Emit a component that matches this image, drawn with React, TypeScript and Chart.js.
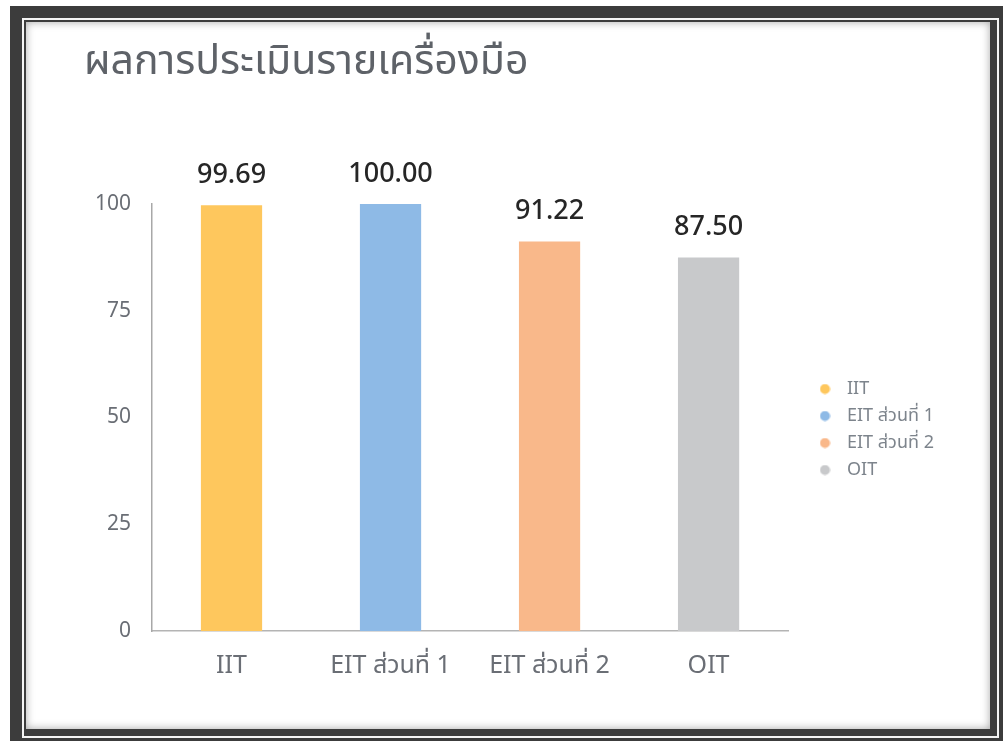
import React, { useEffect, useRef } from "react";
import { Chart, registerables } from "chart.js";

Chart.register(...registerables);

const categories = ["IIT", "EIT ส่วนที่ 1", "EIT ส่วนที่ 2", "OIT"];
const scores = [99.69, 100.0, 91.22, 87.5];
const barColors = ["#FEC75D", "#8EBAE6", "#F9B88A", "#C8C9CB"];
const yTicks = [0, 25, 50, 75, 100];
const titleText = "ผลการประเมินรายเครื่องมือ";

const FONT = "'Noto Sans', 'Noto Sans Thai', sans-serif";

function makeDot(color: string, size: number) {
  const c = document.createElement("canvas");
  c.width = size;
  c.height = size;
  const ctx = c.getContext("2d")!;
  ctx.fillStyle = color;
  ctx.beginPath();
  ctx.arc(size / 2, size / 2, size / 2 - 0.5, 0, Math.PI * 2);
  ctx.fill();
  return c;
}

const valueLabels = {
  id: "valueLabels",
  afterDatasetsDraw(chart: any) {
    const ctx = chart.ctx;
    const meta = chart.getDatasetMeta(0);
    const data = chart.data.datasets[0].data as number[];
    ctx.save();
    ctx.font = `500 27px ${FONT}`;
    ctx.fillStyle = "#262626";
    ctx.textAlign = "center";
    ctx.textBaseline = "middle";
    meta.data.forEach((bar: any, i: number) => {
      ctx.fillText(data[i].toFixed(2), bar.x, bar.y - 30);
    });
    ctx.restore();
  },
};

// place the legend block where it sits in the reference
const legendPlacer = {
  id: "legendPlacer",
  afterLayout(chart: any) {
    const lg = chart.legend;
    if (!lg) return;
    const dy = 407.5 - (lg.top + lg.bottom) / 2;
    const dx = 777 - lg.left;
    lg.top += dy;
    lg.bottom += dy;
    lg.left += dx;
    lg.right += dx;
  },
};

export default function App() {
  const ref = useRef<HTMLCanvasElement>(null);
  useEffect(() => {
    if (!ref.current) return;
    const dots = barColors.map((c) => makeDot(c, 11));
    const chart = new Chart(ref.current, {
      type: "bar",
      data: {
        labels: categories,
        datasets: [
          {
            data: scores,
            backgroundColor: barColors,
            borderWidth: 0,
            categoryPercentage: 1,
            barPercentage: 0.385,
          },
        ],
      },
      options: {
        animation: false,
        responsive: false,
        maintainAspectRatio: false,
        layout: { padding: { left: 59, top: 182, right: 61, bottom: 36 } },
        plugins: {
          title: { display: false },
          tooltip: { enabled: false },
          legend: {
            position: "right",
            align: "center",
            labels: {
              usePointStyle: true,
              pointStyleWidth: 26,
              boxHeight: 11,
              padding: 9,
              color: "#7d848c",
              font: { family: FONT, size: 18 },
              generateLabels: () =>
                categories.map((c, i) => ({
                  text: c,
                  fillStyle: barColors[i],
                  strokeStyle: barColors[i],
                  lineWidth: 0,
                  pointStyle: dots[i],
                  hidden: false,
                  index: i,
                  datasetIndex: 0,
                  fontColor: "#7d848c",
                })),
            },
          },
        },
        scales: {
          x: {
            grid: { display: false },
            border: { display: true, color: "#b4b4b4", width: 1.5 },
            ticks: {
              color: "#6a6e75",
              font: { family: FONT, size: 25 },
              padding: 12,
              maxRotation: 0,
              autoSkip: false,
            },
          },
          y: {
            min: 0,
            max: 100,
            grid: { display: false },
            border: { display: true, color: "#a8a8a8", width: 1.5 },
            afterBuildTicks: (s: any) => {
              s.ticks = yTicks.map((v) => ({ value: v }));
            },
            ticks: {
              color: "#6a6e75",
              font: { family: FONT, size: 21 },
              padding: 13,
            },
            afterFit: (s: any) => {
              s.width = 67;
            },
          },
        },
      },
      plugins: [valueLabels, legendPlacer],
    });
    return () => chart.destroy();
  }, []);

  return (
    <div
      style={{
        position: "fixed",
        left: 0,
        top: 0,
        width: 1005,
        height: 744,
        background: "#ffffff",
        overflow: "hidden",
      }}
    >
      <div
        style={{
          position: "absolute",
          left: 10,
          top: 6,
          width: 993,
          height: 735,
          background: "#3c3c3c",
        }}
      />
      <div
        style={{
          position: "absolute",
          left: 22,
          top: 18,
          width: 973,
          height: 716,
          border: "2px solid #f4f4f4",
        }}
      />
      <div
        style={{
          position: "absolute",
          left: 26,
          top: 22,
          width: 964,
          height: 707,
          background: "#ffffff",
          boxShadow: "inset 0 0 9px rgba(0,0,0,0.35)",
        }}
      >
        <canvas
          ref={ref}
          width={964}
          height={707}
          style={{ position: "absolute", left: 0, top: 0, width: 964, height: 707 }}
        />
        <div
          style={{
            position: "absolute",
            left: 58,
            top: 10,
            fontFamily: FONT,
            fontSize: 41,
            color: "#5e6268",
            whiteSpace: "nowrap",
            lineHeight: "52px",
          }}
        >
          {titleText}
        </div>
      </div>
    </div>
  );
}
